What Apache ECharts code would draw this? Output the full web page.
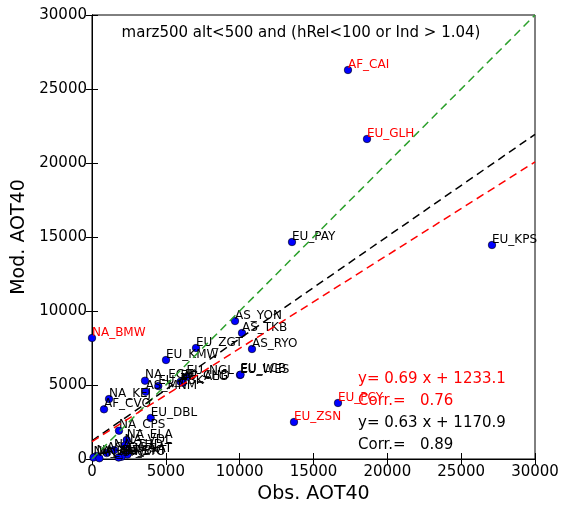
<!DOCTYPE html>
<html>
<head>
<meta charset="utf-8">
<script src="https://cdn.jsdelivr.net/npm/echarts@6/dist/echarts.min.js"></script>
<style>
  body { margin: 0; background: #fff; }
  #main { width: 562px; height: 506px; }
</style>
</head>
<body>
<div id="main"></div>
<script>
const chart = echarts.init(document.querySelector("#main"));

// station names with observed / modelled AOT40
const stations = ["AF_CAI", "EU_GLH", "EU_PAY", "EU_KPS", "NA_BMW", "AS_YON", "AS_TKB", "AS_RYO",
    "EU_ZGT", "EU_KMW", "NA_EGB", "EU_ESK", "EU_CHD", "AF_ALG", "EU_NGL", "AS_MNM", "EU_WES", "EU_LCB",
    "NA_KEJ", "AF_CVO", "EU_DBL", "NA_CPS", "NA_ELA", "NA_VDL", "NA_THD", "EU_SAT", "NA_ALT",
    "NA_BRW", "AS_OGA", "AN_SPO", "EU_BKT", "AN_SYO", "EU_PCY", "EU_ZSN"];
const obs = [17336, 18623, 13544, 27088, 0, 9684, 10158, 10835,
    7043, 5011, 3590, 4490, 6005, 6150, 6410, 3635, 10022, 10060,
    1151, 813, 3975, 1828, 2350, 2200, 1500, 2400, 300,
    100, 1000, 500, 2000, 1800, 16659, 13679];
const mod = [26284, 21622, 14662, 14459, 8176, 9324, 8514, 7432,
    7500, 6689, 5290, 4932, 5223, 5150, 5560, 4547, 5676, 5700,
    4054, 3358, 2770, 1912, 1284, 900, 600, 300, 200,
    100, 400, 50, 150, 100, 3784, 2500];
const redStations = ["AF_CAI", "EU_GLH", "NA_BMW", "EU_PCY", "EU_ZSN"];

// regression lines: [slope, intercept]
const fitBlack = [0.69, 1233.1];
const fitRed = [0.63, 1170.9];
const xRange = [0, 30000];

const statsLines = [
    { text: "y= 0.69 x + 1233.1", color: "#ff0000" },
    { text: "Corr.=   0.76", color: "#ff0000" },
    { text: "y= 0.63 x + 1170.9", color: "#000000" },
    { text: "Corr.=   0.89", color: "#000000" },
];

const font = "DejaVu Sans";

function fitLine(fit) {
    return xRange.map((x) => [x, fit[0] * x + fit[1]]);
}

const points = stations.map((name, i) => ({
    name: name,
    value: [obs[i], mod[i]],
    label: { color: redStations.includes(name) ? "#ff0000" : "#000000" },
}));

const axisCommon = {
    type: "value",
    min: 0,
    max: 30000,
    interval: 5000,
    splitLine: { show: false },
    axisLine: { lineStyle: { color: "#000", width: 1 } },
    axisTick: { inside: true, length: 6, lineStyle: { color: "#000" } },
};

let option = {
    animation: false,
    backgroundColor: "#fff",
    grid: {
        left: 92, top: 15, width: 443, height: 444,
        outerBoundsMode: "none", containLabel: false,
        show: true, borderColor: "#000", borderWidth: 1,
    },
    xAxis: [
        Object.assign({}, axisCommon, {
            position: "bottom",
            name: "Obs. AOT40",
            nameLocation: "middle",
            nameGap: 25,
            nameTextStyle: { fontFamily: font, fontSize: 19, color: "#000" },
            axisLabel: { fontFamily: font, fontSize: 15, color: "#000", margin: 6, formatter: (v) => String(v) },
        }),
        Object.assign({}, axisCommon, { position: "top", axisLabel: { show: false } }),
    ],
    yAxis: [
        Object.assign({}, axisCommon, {
            position: "left",
            name: "Mod. AOT40",
            nameLocation: "middle",
            nameGap: 60,
            nameTextStyle: { fontFamily: font, fontSize: 19, color: "#000" },
            axisLabel: { fontFamily: font, fontSize: 15, color: "#000", margin: 5, formatter: (v) => String(v) },
        }),
        Object.assign({}, axisCommon, { position: "right", axisLabel: { show: false } }),
    ],
    graphic: [
        {
            type: "text",
            x: 301,
            y: 33,
            style: {
                text: "marz500 alt<500 and (hRel<100 or Ind > 1.04)",
                fontFamily: font,
                fontSize: 15,
                fill: "#000",
                align: "center",
                verticalAlign: "middle",
            },
        },
    ].concat(statsLines.map((s, i) => ({
        type: "text",
        x: 358,
        y: [379, 401, 423, 445][i],
        style: {
            text: s.text,
            fontFamily: font,
            fontSize: 15,
            fill: s.color,
            verticalAlign: "middle",
        },
    }))),
    series: [
        {
            type: "line",
            data: fitLine([1, 0]),
            symbol: "none",
            silent: true,
            lineStyle: { color: "#2ca02c", width: 1.5, type: [8, 5] },
        },
        {
            type: "line",
            data: fitLine(fitBlack),
            symbol: "none",
            silent: true,
            lineStyle: { color: "#000000", width: 1.5, type: [8, 5] },
        },
        {
            type: "line",
            data: fitLine(fitRed),
            symbol: "none",
            silent: true,
            lineStyle: { color: "#ff0000", width: 1.5, type: [8, 5] },
        },
        {
            type: "scatter",
            clip: false,
            symbolSize: 7.5,
            itemStyle: { color: "#0000ff", borderColor: "#000", borderWidth: 0.6, opacity: 1 },
            label: {
                show: true,
                formatter: "{b}",
                position: [4, -1.5],
                align: "left",
                verticalAlign: "middle",
                fontFamily: font,
                fontSize: 12,
            },
            data: points,
        },
    ],
};
chart.setOption(option);
</script>
</body>
</html>
